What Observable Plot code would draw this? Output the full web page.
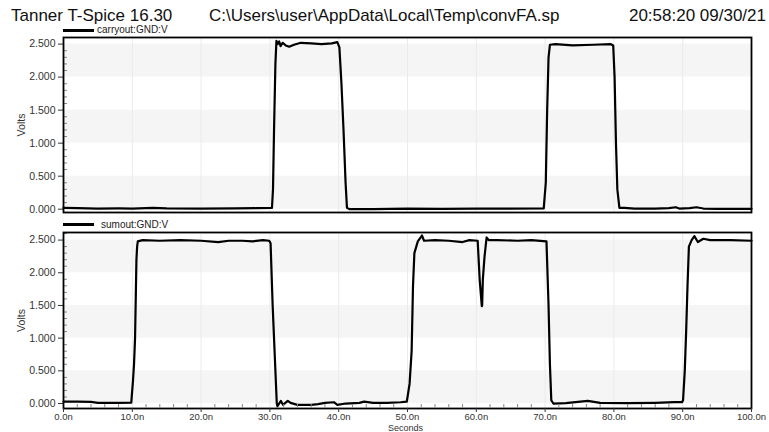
<!DOCTYPE html>
<html><head><meta charset="utf-8">
<script src="https://cdn.jsdelivr.net/npm/d3@7"></script>
<script src="https://cdn.jsdelivr.net/npm/@observablehq/plot@0.6"></script>
<style>
body{margin:0;background:#fff;font-family:"Liberation Sans",Arial,sans-serif;}
#wrap{position:relative;width:769px;height:432px;overflow:hidden;background:#fff;}
.t{position:absolute;font-size:17px;color:#111;white-space:nowrap;top:6px;line-height:20px;}
.leg{position:absolute;font-size:10px;color:#222;white-space:nowrap;line-height:12px;}
.legline{position:absolute;height:3px;background:#000;}
.plot{position:absolute;left:0;}
.xl{position:absolute;font-size:9px;color:#333;white-space:nowrap;line-height:9px;}
</style></head><body>
<div id="wrap">
  <div class="t" style="left:11px">Tanner T-Spice 16.30</div>
  <div class="t" style="left:209px">C:\Users\user\AppData\Local\Temp\convFA.sp</div>
  <div class="t" style="right:3px">20:58:20 09/30/21</div>
  <div id="top" class="plot" style="top:0"></div>
  <div id="bot" class="plot" style="top:215px"></div>
  <div class="legline" style="left:63px;top:29px;width:31px"></div>
  <div class="leg" style="left:97px;top:24px">carryout:GND:V</div>
  <div class="legline" style="left:63px;top:223px;width:31px"></div>
  <div class="leg" style="left:101px;top:219px">sumout:GND:V</div>
  <div class="xl" style="left:388px;top:424px">Seconds</div>
</div>
<script>
// carryout:GND:V  (time in ns, volts)
const carryT = [0,2,5,8,10,13,15,20,25,28,30.3,30.45,30.6,30.8,30.95,31.15,31.35,31.55,31.85,32.3,32.8,33.5,34.5,36,37.5,39,39.8,40.1,40.4,40.7,41.0,41.2,41.6,45,50,55,60,65,69.8,70.1,70.3,70.5,70.7,71.5,74,77,79.5,79.9,80.1,80.3,80.5,80.8,81.5,83,86,88,89,89.5,91,92,93,95,100];
const carryV = [0.02,0.015,0.01,0.012,0.01,0.02,0.012,0.01,0.012,0.015,0.02,0.3,1.2,2.2,2.55,2.5,2.54,2.47,2.52,2.48,2.46,2.49,2.52,2.51,2.50,2.51,2.53,2.45,1.9,1.2,0.4,0.02,0.0,0.0,0.01,0.005,0.01,0.008,0.012,0.4,1.5,2.3,2.49,2.5,2.48,2.49,2.5,2.48,2.0,1.0,0.3,0.02,0.02,0.01,0.01,0.015,0.03,0.01,0.015,0.03,0.01,0.005,0.005];
// sumout:GND:V
const sumT = [0,2,4,5,8,9.85,10.1,10.25,10.4,10.5,10.6,10.7,10.8,11.5,14,17,20,22.5,24,26,27.5,29,29.9,30.1,30.4,30.6,30.8,31.0,31.1,31.6,31.9,32.6,33,34,36,37,38,39.3,39.8,41,43,43.7,45,47,49,49.9,50.3,50.6,50.8,51.0,51.5,52.1,52.4,54,56,58,59,60.2,60.5,60.8,60.85,60.95,61.2,61.5,61.8,63,66,68,70.2,70.5,70.7,70.9,71.2,73,76.2,78,82,86,88.8,89.9,90.05,90.3,90.5,90.7,90.9,91.3,91.7,92.2,93,94,97,100];
const sumV = [0.03,0.03,0.025,0.01,0.01,0.015,0.35,0.6,1.0,1.6,2.2,2.4,2.48,2.5,2.49,2.5,2.49,2.47,2.49,2.49,2.48,2.5,2.49,2.45,1.5,1.0,0.5,0.0,-0.04,0.04,-0.02,0.04,0.01,-0.02,-0.02,-0.01,0.01,0.02,-0.02,0.0,0.01,0.03,0.01,0.01,0.02,0.03,0.3,0.8,1.8,2.3,2.48,2.57,2.49,2.5,2.49,2.47,2.5,2.49,1.88,1.49,1.5,1.9,2.25,2.54,2.5,2.5,2.49,2.5,2.48,1.5,0.6,0.05,0.0,0.005,0.04,0.01,0.005,0.01,0.02,0.02,0.05,0.5,1.1,1.8,2.4,2.5,2.56,2.47,2.52,2.5,2.5,2.49];
// axis ticks
const yMajor = [0, 0.5, 1.0, 1.5, 2.0, 2.5];
const yMinor = d3.range(0, 2.61, 0.1).filter(v => Math.abs(v*2 - Math.round(v*2)) > 1e-6);
const xMajor = [0, 10, 20, 30, 40, 50, 60, 70, 80, 90, 100];
const xMinor = d3.range(2, 100, 2).filter(v => v % 10 !== 0);
const xTickLabels = ["0.0n","10.0n","20.0n","30.0n","40.0n","50.0n","60.0n","70.0n","80.0n","90.0n","100.0n"];
const bands = [[0,0.5],[1.0,1.5],[2.0,2.5]];

const carry = carryT.map((t,i) => ({t, v: carryV[i]}));
const sum = sumT.map((t,i) => ({t, v: sumV[i]}));

function panel(data, opts) {
  const marks = [
    Plot.rect(bands, {y1: d => d[0], y2: d => d[1], fill: "#f5f5f5"}),
    Plot.ruleX(xMajor.slice(1, -1), {stroke: "#ebebeb", strokeWidth: 1}),
    Plot.axisY({ticks: yMajor, tickFormat: d3.format(".3f"), tickSize: 5, tickPadding: 3, label: "Volts", labelAnchor: "center", labelOffset: 46, labelArrow: "none", fontSize: 10.5, color: "#333"}),
    Plot.axisY({ticks: yMinor, tickSize: -4, tickFormat: () => "", label: null, stroke: "#888"}),
    Plot.line(data, {x: "t", y: "v", stroke: "#000", strokeWidth: 2.2, strokeLinejoin: "round"}),
    Plot.frame({stroke: "#000", strokeWidth: 1.8})
  ];
  if (opts.showX) {
    marks.push(Plot.axisX({ticks: xMajor, tickSize: 4, tickPadding: 1, tickFormat: (d, i) => xTickLabels[i], label: null, fontSize: 9.5, color: "#333"}));
    marks.push(Plot.axisX({ticks: xMinor, tickSize: -4, tickFormat: () => "", label: null, stroke: "#888"}));
  } else {
    marks.push(Plot.axisX({ticks: [], label: null}));
  }
  return Plot.plot({
    width: 769, height: opts.height,
    marginLeft: 63, marginRight: 18, marginTop: opts.marginTop, marginBottom: opts.marginBottom,
    style: {fontFamily: "Liberation Sans, Arial, sans-serif", fontSize: "10px", background: "transparent", overflow: "visible"},
    x: {domain: [0, 100]},
    y: {domain: opts.yDomain},
    marks
  });
}

document.getElementById("top").append(panel(carry, {height: 215, marginTop: 37, marginBottom: 3, yDomain: [-0.05, 2.6], showX: false}));
document.getElementById("bot").append(panel(sum, {height: 217, marginTop: 17, marginBottom: 24, yDomain: [-0.076, 2.616], showX: true}));
</script>
</body></html>
